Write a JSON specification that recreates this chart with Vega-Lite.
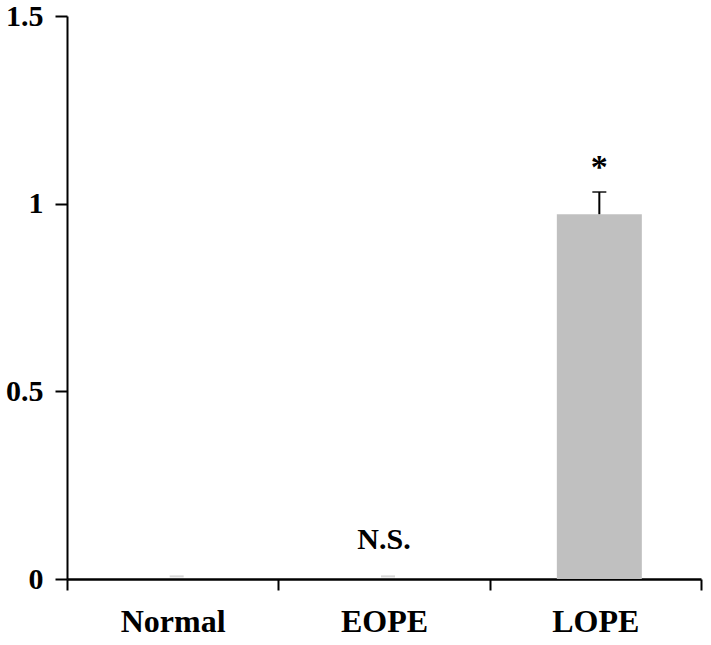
{
  "$schema": "https://vega.github.io/schema/vega-lite/v6.json",
  "autosize": "none",
  "width": 634,
  "height": 563,
  "padding": {"left": 67, "top": 16, "right": 10, "bottom": 66},
  "background": "white",
  "config": {
    "view": {"stroke": null},
    "font": "Liberation Serif",
    "axis": {"labelFont": "Liberation Serif", "labelFontWeight": "bold", "labelColor": "black", "domainColor": "black", "tickColor": "black", "domainWidth": 2, "tickWidth": 2, "grid": false, "title": null}
  },
  "data": {
    "values": [
      {"group": "Normal", "value": 0, "err": 0.007, "label": ""},
      {"group": "EOPE", "value": 0, "err": 0.007, "label": "N.S."},
      {"group": "LOPE", "value": 0.972, "err": 0.059, "label": "*"}
    ]
  },
  "transform": [{"calculate": "datum.value + datum.err", "as": "hi"}],
  "encoding": {
    "x": {"field": "group", "type": "nominal", "sort": ["Normal", "EOPE", "LOPE"],
      "scale": {"paddingInner": 0, "paddingOuter": 0},
      "axis": {"labelAngle": 0, "labelFontSize": 32, "labelPadding": 16, "tickSize": 11, "tickBand": "extent", "domainWidth": 2.5}}
  },
  "layer": [
    {
      "mark": {"type": "bar", "size": 85, "color": "#c0c0c0", "xOffset": 4},
      "encoding": {
        "y": {"field": "value", "type": "quantitative",
          "scale": {"domain": [0, 1.5], "nice": false},
          "axis": {"values": [0, 0.5, 1, 1.5], "format": ".1~f", "labelFontSize": 30, "tickSize": 12, "labelPadding": 12}}
      }
    },
    {
      "mark": {"type": "rule", "strokeWidth": 2, "color": "black", "xOffset": 4},
      "transform": [{"filter": "datum.value > 0.5"}],
      "encoding": {"y": {"field": "value", "type": "quantitative"}, "y2": {"field": "hi"}}
    },
    {
      "mark": {"type": "tick", "thickness": 2, "size": 14, "xOffset": 4},
      "encoding": {
        "y": {"field": "hi", "type": "quantitative"},
        "color": {"condition": {"test": "datum.value < 0.5", "value": "#c8c8c8"}, "value": "black"}
      }
    },
    {
      "mark": {"type": "text", "fontSize": 34, "fontWeight": "bold", "baseline": "middle", "font": "Liberation Serif", "color": "black", "xOffset": 4},
      "encoding": {
        "y": {"field": "hi", "type": "quantitative"},
        "yOffset": {"value": -24},
        "text": {"field": "label"}
      },
      "transform": [{"filter": "datum.value > 0.5"}]
    },
    {
      "mark": {"type": "text", "fontSize": 30, "fontWeight": "bold", "baseline": "middle", "font": "Liberation Serif", "color": "black"},
      "encoding": {
        "y": {"datum": 0.104, "type": "quantitative"},
        "text": {"field": "label"}
      },
      "transform": [{"filter": "datum.group == 'EOPE'"}]
    }
  ]
}
